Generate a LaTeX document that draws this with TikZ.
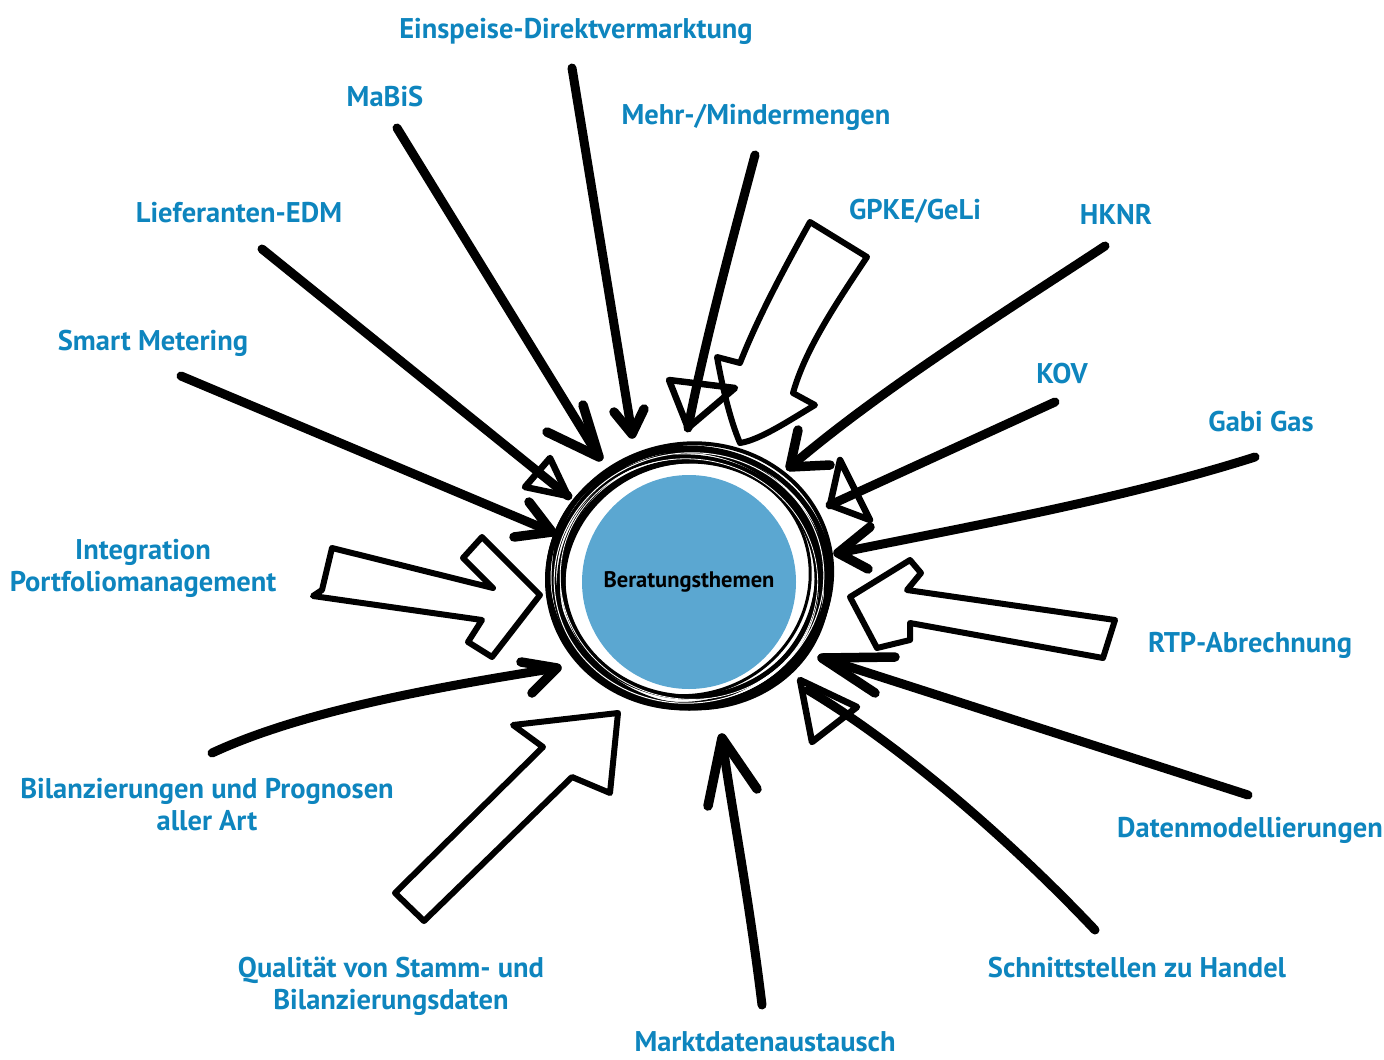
\documentclass[tikz,border=0pt]{standalone}
\usepackage{fontspec}
\setmainfont{PT Sans}
\usetikzlibrary{calc}
\definecolor{labblue}{RGB}{14,133,190}
\definecolor{discblue}{RGB}{91,167,209}
\begin{document}
\begin{tikzpicture}[x=1pt,y=-1pt,
  lab/.style={text=labblue,font=\fontsize{28.5}{32}\selectfont\bfseries,align=center,inner sep=0pt},
  shaft/.style={line width=9pt,line cap=round,line join=round},
  head/.style={line width=9.5pt,line cap=round,line join=round},
  block/.style={line width=6pt,line join=round,line cap=round},
  tri/.style={line width=6.5pt,line join=round,line cap=round},
  ring/.style={line width=#1}]
\useasboundingbox (0,0) rectangle (1384,1060);

% ---- centre ----
\coordinate (c) at (689,578);
\draw[ring=5pt] (c) ellipse [x radius=141, y radius=130];
\draw[ring=4pt,rotate around={12:(c)}] ($(c)+(1,-2)$) ellipse [x radius=143, y radius=132];
\draw[ring=4.5pt,rotate around={-8:(c)}] ($(c)+(-1,3)$) ellipse [x radius=134, y radius=124];
\draw[ring=5pt] ($(c)+(1,1)$) ellipse [x radius=127, y radius=118];
\draw[ring=3pt,rotate around={20:(c)}] ($(c)+(-2,0)$) ellipse [x radius=124, y radius=116];
\draw[ring=3pt,rotate around={-15:(c)}] ($(c)+(0,2)$) ellipse [x radius=141, y radius=128];
\draw[ring=4pt,rotate around={5:(c)}] ($(c)+(2,-1)$) ellipse [x radius=137, y radius=128];
\draw[ring=3pt,rotate around={30:(c)}] ($(c)+(-1,-1)$) ellipse [x radius=131, y radius=124];
\draw[ring=3.5pt,rotate around={-25:(c)}] ($(c)+(1,0)$) ellipse [x radius=138, y radius=126];
\draw[ring=1pt,white,rotate around={8:(c)}] ($(c)+(0,0)$) ellipse [x radius=135, y radius=125];
\draw[ring=0.8pt,white,rotate around={-10:(c)}] ($(c)+(0,1)$) ellipse [x radius=129, y radius=120];
\node[circle,fill=discblue,minimum size=214pt,inner sep=0pt] (core) at (689,582)
  {\fontsize{22.5}{26}\selectfont\bfseries Beratungsthemen};

% ---- labels ----
\node[lab] (l1) at (576,31) {Einspeise-Direktvermarktung};
\node[lab] (l2) at (385,97) {MaBiS};
\node[lab] (l3) at (756,117) {Mehr-/Mindermengen};
\node[lab] (l4) at (239,213) {Lieferanten-EDM};
\node[lab] (l5) at (915,211) {GPKE/GeLi};
\node[lab] (l6) at (1116,214) {HKNR};
\node[lab] (l7) at (153,343) {Smart Metering};
\node[lab] (l8) at (1062,374) {KOV};
\node[lab] (l9) at (1261,422) {Gabi Gas};
\node[lab] (l10) at (143,568) {Integration\\Portfoliomanagement};
\node[lab] (l11) at (1250,645) {RTP-Abrechnung};
\node[lab] (l12) at (207,805) {Bilanzierungen und Prognosen\\aller Art};
\node[lab] (l13) at (1250,830) {Datenmodellierungen};
\node[lab] (l14) at (391,986) {Qualität von Stamm- und\\Bilanzierungsdaten};
\node[lab] (l15) at (1137,968) {Schnittstellen zu Handel};
\node[lab] (l16) at (765,1042) {Marktdatenaustausch};

% ---- arrow end points ----
\coordinate (s1) at (572,68);   \coordinate (t1) at (632,434);
\coordinate (s2) at (397,128);  \coordinate (t2) at (599,457);
\coordinate (s3) at (262,249);  \coordinate (t3) at (568,496);
\coordinate (s4) at (181,376);  \coordinate (t4) at (552,532);
\coordinate (s6) at (212,753);  \coordinate (t6) at (557,668);
\coordinate (s8) at (762,1005); \coordinate (t8) at (722,738);
\coordinate (s9) at (1095,930); \coordinate (t9) at (808,690);
\coordinate (s10) at (1248,795);\coordinate (t10) at (822,658);
\coordinate (s12) at (1255,457);\coordinate (t12) at (838,553);
\coordinate (s13) at (1055,402);\coordinate (t13) at (830,505);
\coordinate (s14) at (1105,246);\coordinate (t14) at (790,467);
\coordinate (s16) at (755,155); \coordinate (t16) at (688,428);

% ---- line arrows ----
% Einspeise
\draw[shaft] (s1) -- (t1);
\draw[head] (t1) ++(-18,-22) -- (t1) -- ++(12,-25);
% MaBiS
\draw[shaft] (s2) -- (t2);
\draw[head] (t2) ++(-52,-25) -- (t2) -- ++(-16,-52);
% Lieferanten-EDM
\draw[shaft] (s3) -- (t3);
\draw[tri] (t3) -- (550,458) -- (525,487) -- cycle;
% Smart Metering
\draw[shaft] (s4) -- (t4);
\draw[head] (t4) ++(-23,-30) -- (t4) -- ++(-38,5);
% Bilanzierungen
\draw[shaft] (s6) .. controls (300,712) and (430,688) .. (t6);
\draw[head] (t6) ++(-36,-6) -- (t6) -- ++(-25,25);
% Marktdaten
\draw[shaft] (s8) .. controls (748,890) and (730,800) .. (t8);
\draw[head] (t8) ++(-14,68) -- (t8) -- ++(35,51);
% Schnittstellen
\draw[shaft] (s9) .. controls (1010,840) and (900,745) .. (t9);
\draw[tri] (800,680) -- (812,742) -- (857,707) -- cycle;
% Datenmodellierungen
\draw[shaft] (s10) -- (t10);
\draw[head] (t10) ++(73,-1) -- (t10) -- ++(53,35);
% Gabi Gas
\draw[shaft] (s12) .. controls (1120,500) and (960,528) .. (t12);
\draw[head] (t12) ++(32,-26) -- (t12) -- ++(30,16);
% KOV
\draw[shaft] (s13) -- (t13);
\draw[tri] (t13) -- (840,460) -- (870,520) -- cycle;
% HKNR
\draw[shaft] (s14) .. controls (1000,315) and (880,390) .. (t14);
\draw[head] (t14) ++(8,-37) -- (t14) -- ++(40,-2);
% Mehr-/Mindermengen
\draw[shaft] (s16) .. controls (735,230) and (705,340) .. (t16);
\draw[tri] (t16) -- (669,380) -- (735,388) -- cycle;

% ---- block arrows ----
% GPKE/GeLi
\draw[block] (810,222) -- (867,257) .. controls (835,305) and (805,350) .. (793,393)
  -- (815,405) .. controls (790,420) and (760,440) .. (740,443)
  .. controls (730,420) and (722,385) .. (717,357) -- (740,363)
  .. controls (755,325) and (775,285) .. cycle;
% Integration Portfoliomanagement
\draw[block] (332,548) -- (493,588) -- (463,558) -- (482,537) -- (540,595)
  -- (492,657) -- (468,642) -- (482,620) -- (313,596) -- (322,590) -- cycle;
% Qualitaet
\draw[block] (395,893) -- (543,747) -- (513,725) -- (618,713) -- (610,793)
  -- (572,777) -- (424,921) -- cycle;
% RTP-Abrechnung
\draw[block] (850,597) -- (910,560) -- (921,573) -- (907,590) -- (1115,620)
  -- (1103,658) -- (910,623) -- (910,640) -- (877,648) -- cycle;
\end{tikzpicture}
\end{document}
